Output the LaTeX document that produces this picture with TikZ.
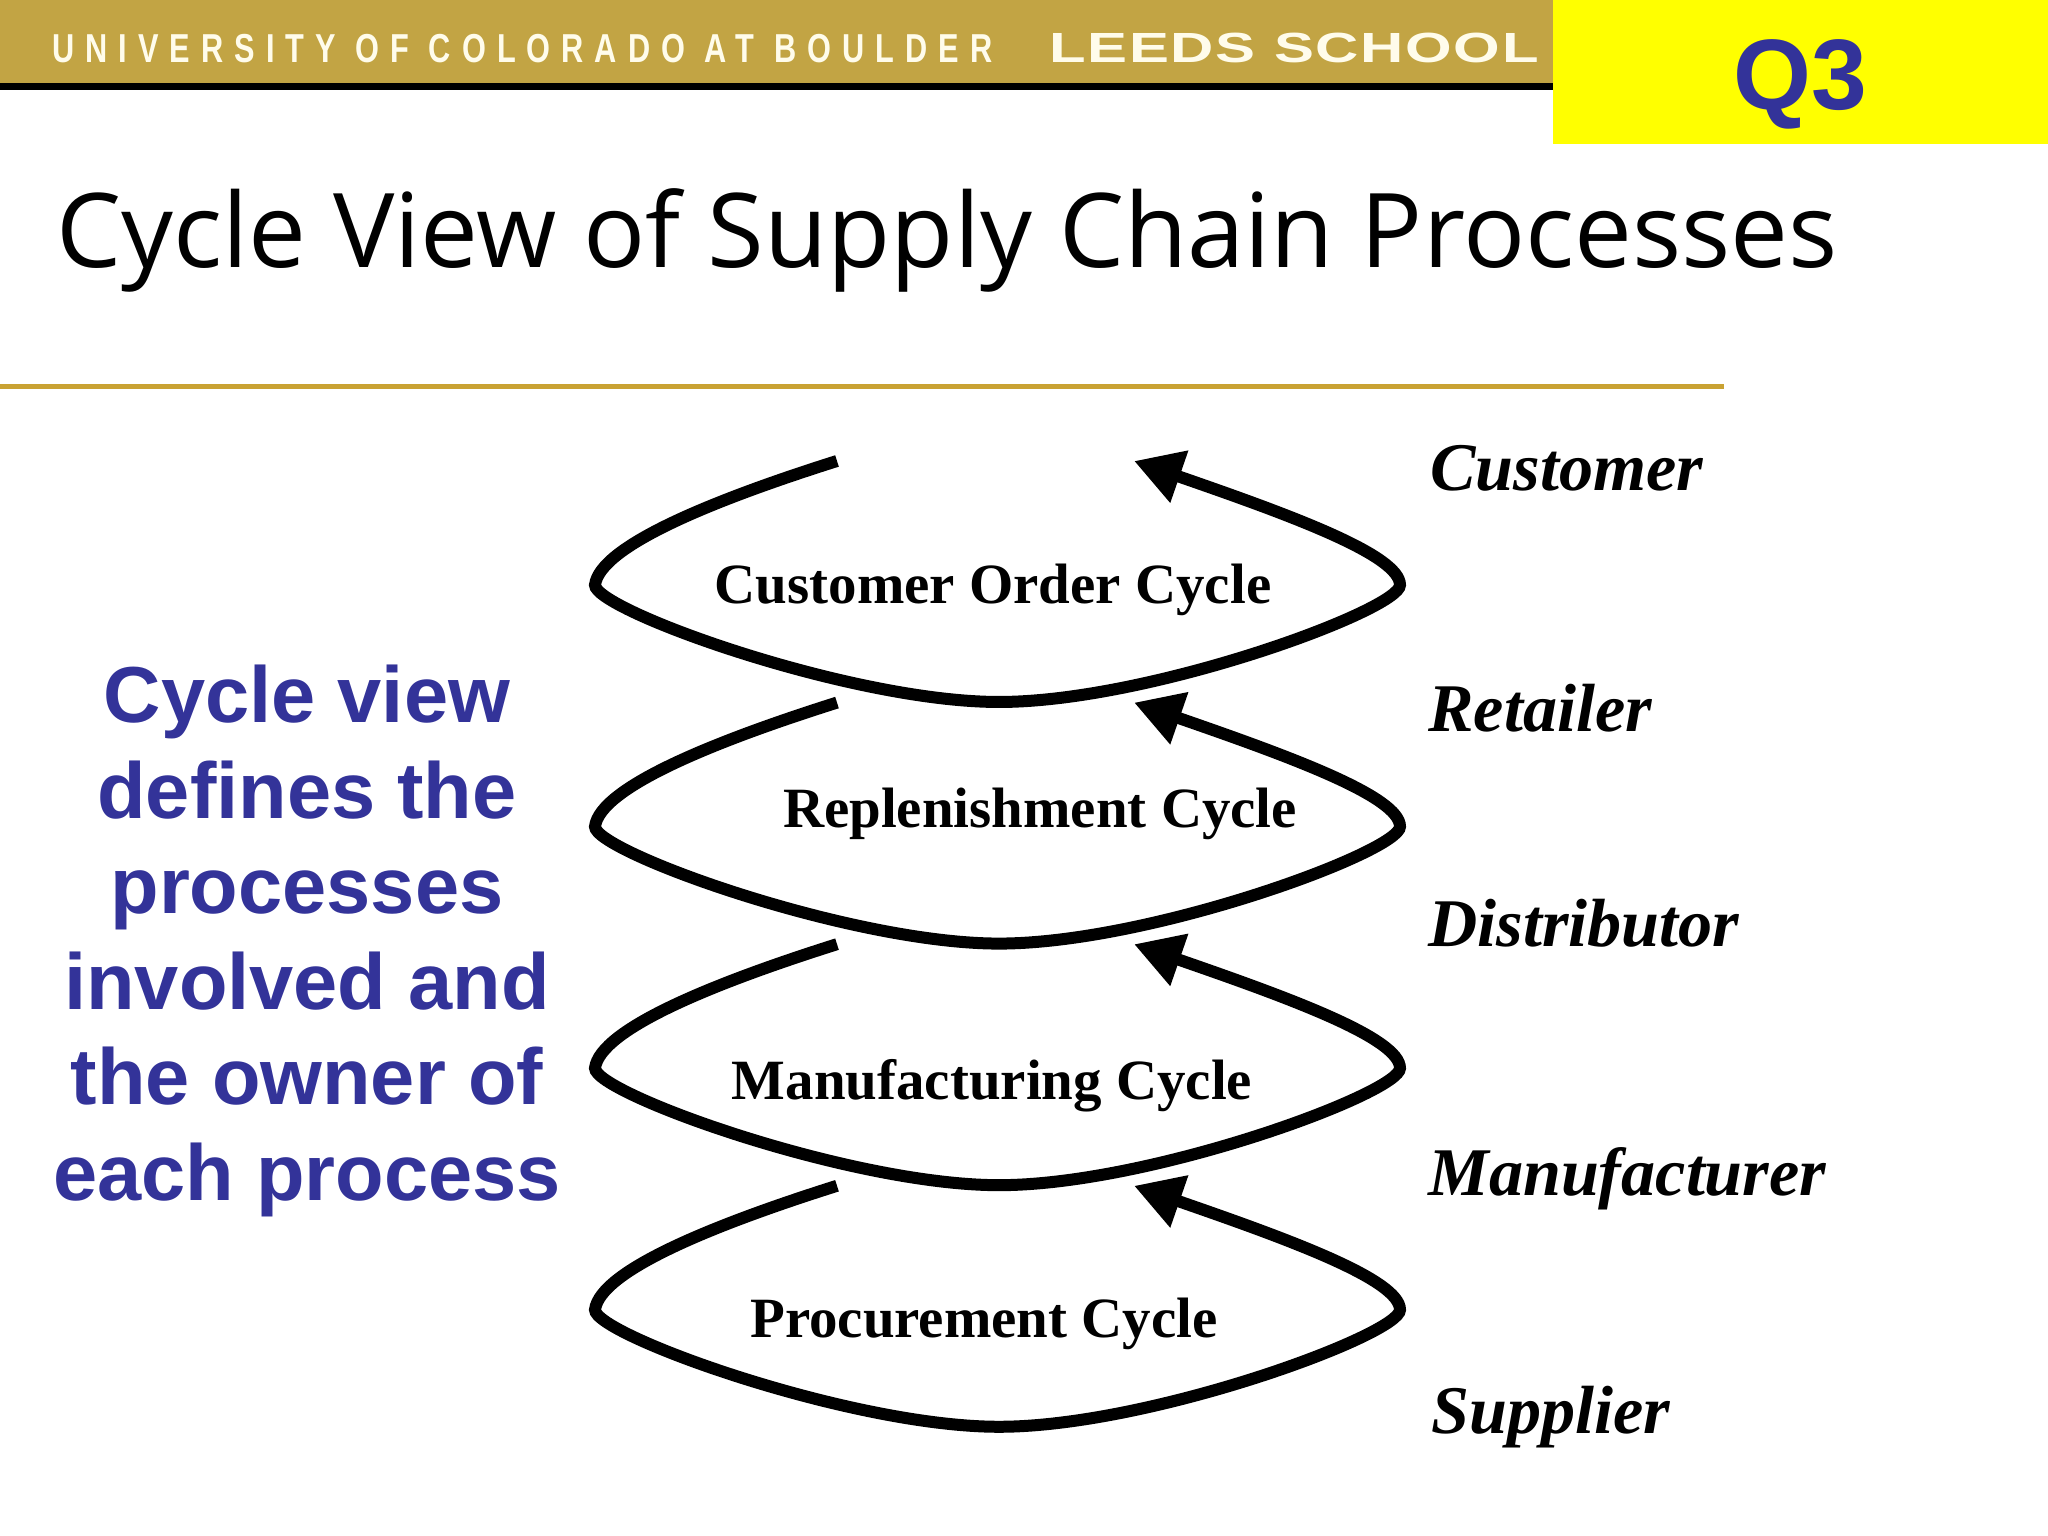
\documentclass[tikz,border=0pt]{standalone}
\usepackage{fontspec}
\usepackage{tikz}
\usetikzlibrary{arrows.meta,calc,positioning}
\setmainfont{Liberation Serif}
\newfontfamily\titlefont{Open Sans}
\newfontfamily\sansbold[BoldFont=Liberation Sans Bold]{Liberation Sans}
\newfontfamily\univfont[FakeStretch=0.76,LetterSpace=27.3]{Liberation Sans Bold}
\newfontfamily\leedsfont[FakeStretch=1.42,LetterSpace=4]{Liberation Sans Bold}
\definecolor{bandgold}{RGB}{194,164,68}
\definecolor{rulegold}{RGB}{201,162,51}
\definecolor{cream}{RGB}{255,252,235}
\definecolor{slideblue}{RGB}{51,51,153}
\definecolor{tagyellow}{rgb}{1,1,0}

\begin{document}
\begin{tikzpicture}[node distance=2.416cm,on grid,
    cycle/.style={line width=0.12cm,-{Triangle[length=0.48cm,width=0.52cm]},
      to path={.. controls ($(\tikztostart)+(-1.17,-0.37)$) and ($(\tikztostart)+(-2.37,-0.84)$) .. ($(\tikztostart)+(-2.42,-1.24)$)
        .. controls ($(\tikztostart)+(-2.42,-1.49)$) and ($(\tikztostart)+(0.13,-2.41)$) .. ($(\tikztostart)+(1.62,-2.41)$)
        .. controls ($(\tikztostart)+(3.13,-2.41)$) and ($(\tikztostart)+(5.63,-1.49)$) .. ($(\tikztostart)+(5.63,-1.24)$)
        .. controls ($(\tikztostart)+(5.63,-0.94)$) and ($(\tikztostart)+(4.53,-0.54)$) .. (\tikztotarget)}},
    stage/.style={anchor=base,font=\fontsize{16.2}{19}\selectfont\bfseries},
    party/.style={anchor=base west,font=\fontsize{19.4}{22}\selectfont\bfseries\itshape}]
   \useasboundingbox (0,0) rectangle (20.48,15.36);

   \fill[bandgold] (0,15.36) rectangle (15.53,14.53);
   \fill[black] (0,14.53) rectangle (15.53,14.46);
   \fill[tagyellow] (15.53,15.36) rectangle (20.48,13.92);
   \fill[rulegold] (0,11.52) rectangle (17.24,11.47);

   \node[anchor=base west,text=cream,font=\univfont\fontsize{11.5}{14}\selectfont] (univ) at (0.40,14.73) {UNIVERSITY OF COLORADO AT BOULDER};
   \node[anchor=base west,text=cream,font=\leedsfont\fontsize{12}{14}\selectfont] (leeds) at (10.37,14.73) {LEEDS SCHOOL};
   \node[text=slideblue,font=\sansbold\bfseries\fontsize{28.5}{30}\selectfont] (q3) at (18.0,14.52) {Q3};
   \node[anchor=base west,font=\titlefont\fontsize{29.35}{32}\selectfont] (title) at (0.44,12.68) {Cycle View of Supply Chain Processes};
   \node[align=center,text=slideblue,font=\sansbold\bfseries\fontsize{22.6}{27.2}\selectfont] (view) at (3.07,5.95) {Cycle view\\defines the\\processes\\involved and\\the owner of\\each process};

   \coordinate (s_1) at (8.37,10.75);
   \coordinate[below =of s_1] (s_2);
   \coordinate[below =of s_2] (s_3);
   \coordinate[below =of s_3] (s_4);
   \coordinate (t_1) at (11.34,10.75);
   \coordinate[below =of t_1] (t_2);
   \coordinate[below =of t_2] (t_3);
   \coordinate[below =of t_3] (t_4);

   \draw[cycle] (s_1) to (t_1);
   \draw[cycle] (s_2) to (t_2);
   \draw[cycle] (s_3) to (t_3);
   \draw[cycle] (s_4) to (t_4);

   \node[stage] (order) at (9.93,9.32) {Customer Order Cycle};
   \node[stage] (replenish) at (10.40,7.08) {Replenishment Cycle};
   \node[stage] (make) at (9.92,4.36) {Manufacturing Cycle};
   \node[stage] (procure) at (9.84,1.98) {Procurement Cycle};

   \node[party] (customer) at (14.18,10.45) {Customer};
   \node[party] (retailer) at (14.16,8.04) {Retailer};
   \node[party] (distributor) at (14.16,5.89) {Distributor};
   \node[party] (manufacturer) at (14.16,3.40) {Manufacturer};
   \node[party] (supplier) at (14.19,1.02) {Supplier};
\end{tikzpicture}
\end{document}
